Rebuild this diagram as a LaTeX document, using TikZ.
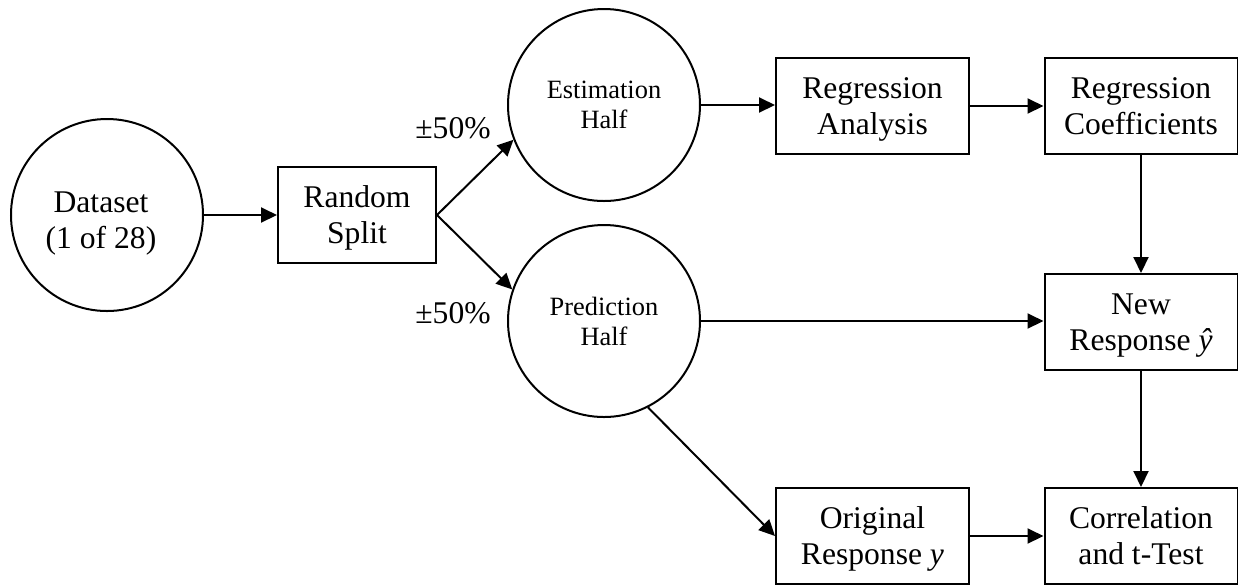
\documentclass[tikz,border=0pt]{standalone}
\usepackage{fontspec}
\setmainfont{Liberation Serif}
\usetikzlibrary{arrows.meta}
\begin{document}
\begin{tikzpicture}[x=0.5pt,y=-0.5pt,
  every node/.style={font=\fontsize{15.8}{18}\selectfont, align=center, inner sep=0pt},
  roundnode/.style={draw, circle, line width=1pt, minimum size=96pt},
  boxnode/.style={draw, rectangle, line width=1pt, minimum width=96.5pt, minimum height=48pt, text depth=0pt},
  smalltext/.style={font=\fontsize{13.2}{15}\selectfont},
  link/.style={line width=1pt, -{Triangle[length=8pt,width=7.5pt]}}]
\useasboundingbox (0,0) rectangle (1238,586);

% nodes
\node[roundnode] (ds) at (107,215) {};
\node (dstext) at (101,224) {Dataset\\(1 of 28)};
\node[boxnode, minimum width=79pt] (rs) at (357,215) {Random\\Split};
\node[roundnode, smalltext] (est) at (604,105) {Estimation\\Half};
\node[roundnode, smalltext] (pred) at (604,321) {Prediction\\Half};
\node[boxnode] (ra) at (872.5,106) {Regression\\Analysis};
\node[boxnode] (rc) at (1141,106) {Regression\\Coefficients};
\node[boxnode] (nr) at (1141,322) {New\\Response \textit{ŷ}};
\node[boxnode] (orig) at (872.5,536) {Original\\Response \textit{y}};
\node[boxnode] (cor) at (1141,536) {Correlation\\and t-Test};

% split proportions
\node (pu) at (453,128) {±50\%};
\node (pl) at (453,313) {±50\%};

% connectors
\draw[link] (ds.east) -- (rs.west);
\draw[link] (rs.east) -- (est.201);
\draw[link] (rs.east) -- (pred.161);
\draw[link] (est.east) -- (est.east -| ra.west);
\draw[link] (ra.east) -- (rc.west);
\draw[link] (rc.south) -- (nr.north);
\draw[link] (pred.east) -- (pred.east -| nr.west);
\draw[link] (nr.south) -- (cor.north);
\draw[link] (pred.-63) -- (orig.west);
\draw[link] (orig.east) -- (cor.west);
\end{tikzpicture}
\end{document}
